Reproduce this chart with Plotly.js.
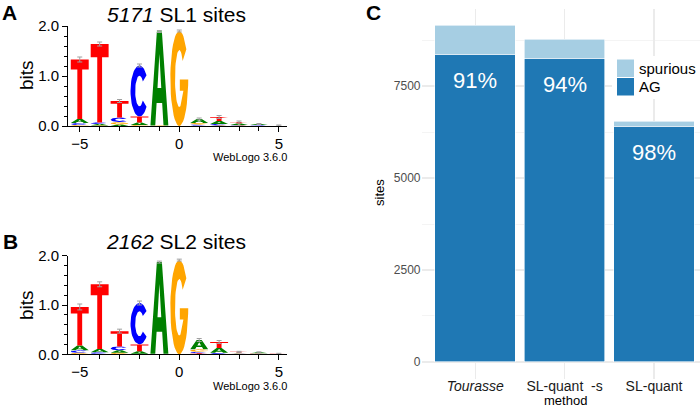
<!DOCTYPE html>
<html><head><meta charset="utf-8">
<script src="https://cdn.plot.ly/plotly-3.0.1.min.js"></script>
<style>html,body{margin:0;padding:0;background:#fff}#chart{width:700px;height:409px}</style>
</head><body><div id="chart"></div>
<script>
// ---------- Data ----------
const positions = [-5, -4, -3, -2, -1, 0, 1, 2, 3, 4, 5];
// Panel A: 5171 SL1 sites, letter heights (bits)
const sl1A = [0.08, 0.03, 0.03, 0.05, 1.88, 0.00, 0.08, 0.06, 0.03, 0.02, 0.00];
const sl1C = [0.04, 0.03, 0.09, 1.02, 0.00, 0.00, 0.02, 0.03, 0.01, 0.01, 0.00];
const sl1G = [0.02, 0.01, 0.05, 0.02, 0.01, 1.90, 0.03, 0.01, 0.01, 0.00, 0.00];
const sl1T = [1.19, 1.57, 0.33, 0.12, 0.00, 0.00, 0.01, 0.08, 0.03, 0.01, 0.01];
const sl1Err = [0.05, 0.04, 0.03, 0.03, 0.02, 0.02, 0.02, 0.03, 0.02, 0.01, 0.01];
// Panel B: 2162 SL2 sites
const sl2A = [0.10, 0.07, 0.05, 0.05, 1.86, 0.00, 0.19, 0.10, 0.01, 0.02, 0.00];
const sl2C = [0.05, 0.03, 0.08, 0.84, 0.00, 0.00, 0.03, 0.02, 0.01, 0.01, 0.00];
const sl2G = [0.03, 0.01, 0.03, 0.01, 0.01, 1.91, 0.05, 0.01, 0.01, 0.00, 0.00];
const sl2T = [0.78, 1.31, 0.31, 0.14, 0.00, 0.00, 0.02, 0.12, 0.02, 0.01, 0.01];
const sl2Err = [0.06, 0.05, 0.04, 0.04, 0.02, 0.02, 0.03, 0.03, 0.01, 0.01, 0.01];
// Panel C: sites per method
const methods = ['Tourasse', 'SL-quant  -s', 'SL-quant'];
const methodLabels = ['<i>Tourasse</i>', 'SL-quant\u00a0\u00a0-s', 'SL-quant'];
const agSites = [8370, 8253, 6402];
const spuriousSites = [788, 524, 138];

// ---------- Styles ----------
const FONT = 'Liberation Sans, Arial, Helvetica, sans-serif';
const letterColors = {A: '#008000', C: '#0000ff', G: '#ffa500', T: '#ff0000'};
const colAG = '#1f78b4', colSp = '#a6cee3';
const W = 700, H = 409;
const px = x => x / W, py = y => 1 - y / H;

// ---------- Glyph outlines (unit box) ----------
function arc(cx, cy, rx, ry, a0, a1, n) {
  const pts = [];
  for (let i = 0; i <= n; i++) {
    const a = (a0 + (a1 - a0) * i / n) * Math.PI / 180;
    pts.push([cx + rx * Math.cos(a), cy + ry * Math.sin(a)]);
  }
  return pts;
}
const glyphs = {
  T: [[[0,1],[1,1],[1,0.83],[0.635,0.83],[0.635,0],[0.365,0],[0.365,0.83],[0,0.83]]],
  A: [
    [[0,0],[0.27,0],[0.345,0.24],[0.655,0.24],[0.73,0],[1,0],[0.64,1],[0.36,1]],
    [[0.395,0.40],[0.5,0.76],[0.605,0.40]]
  ],
  C: [arc(0.5,0.5,0.5,0.5,38,322,40).concat(arc(0.5,0.5,0.24,0.30,322,38,40))],
  G: [arc(0.5,0.5,0.5,0.5,38,360,40)
       .concat([[1,0.49],[0.53,0.49],[0.53,0.37],[0.73,0.37]])
       .concat(arc(0.5,0.5,0.24,0.30,330,38,40))]
};

function logoTraces(hA, hC, hG, hT, err, xa, ya) {
  const byLetter = {A: {x: [], y: []}, C: {x: [], y: []}, G: {x: [], y: []}, T: {x: [], y: []}};
  const totals = [];
  positions.forEach((p, i) => {
    const stack = [['A', hA[i]], ['C', hC[i]], ['G', hG[i]], ['T', hT[i]]]
      .filter(s => s[1] > 0).sort((a, b) => a[1] - b[1]);
    let base = 0;
    stack.forEach(([L, h]) => {
      glyphs[L].forEach(ring => {
        ring.forEach(([u, v]) => {
          byLetter[L].x.push(p - 0.45 + 0.9 * u);
          byLetter[L].y.push(base + h * v);
        });
        byLetter[L].x.push(null); byLetter[L].y.push(null);
      });
      base += h;
    });
    totals.push(base);
  });
  const tr = Object.keys(byLetter).map(L => ({
    type: 'scatter', mode: 'lines', x: byLetter[L].x, y: byLetter[L].y,
    fill: 'toself', fillcolor: letterColors[L], line: {width: 0, color: letterColors[L]},
    xaxis: xa, yaxis: ya, showlegend: false, hoverinfo: 'skip', connectgaps: false
  }));
  tr.push({
    type: 'scatter', mode: 'markers', x: positions, y: totals,
    marker: {size: 1, opacity: 0},
    error_y: {type: 'data', array: err, color: '#a0a0a0', thickness: 1, width: 2.5},
    xaxis: xa, yaxis: ya, showlegend: false, hoverinfo: 'skip'
  });
  return tr;
}

const traces = [
  ...logoTraces(sl1A, sl1C, sl1G, sl1T, sl1Err, 'x', 'y'),
  ...logoTraces(sl2A, sl2C, sl2G, sl2T, sl2Err, 'x2', 'y2'),
  {type: 'bar', x: methods, y: agSites, name: 'AG', marker: {color: colAG, line: {color: '#ffffff', width: 0.6}},
   width: 0.9, xaxis: 'x3', yaxis: 'y3', showlegend: false, hoverinfo: 'skip'},
  {type: 'bar', x: methods, y: spuriousSites, name: 'spurious', marker: {color: colSp, line: {color: '#ffffff', width: 0.6}},
   width: 0.9, xaxis: 'x3', yaxis: 'y3', showlegend: false, hoverinfo: 'skip'}
];

const logoX = {
  range: [-5.59, 5.41], showline: true, linecolor: '#000', linewidth: 1,
  ticks: 'outside', ticklen: 5, tickcolor: '#000', tickwidth: 1, tick0: 0, dtick: 5,
  minor: {dtick: 1, ticks: 'outside', ticklen: 4, tickcolor: '#000'},
  showgrid: false, zeroline: false, tickfont: {size: 15, color: '#000'}, fixedrange: true,
  ticklabelstandoff: -1
};
const logoY = {
  range: [0, 2], showline: true, linecolor: '#000', linewidth: 1,
  ticks: 'outside', ticklen: 5, tickcolor: '#000', tickwidth: 1, tick0: 0, dtick: 1, tickformat: '.1f',
  minor: {dtick: 0.2, ticks: 'outside', ticklen: 3, tickcolor: '#000'},
  showgrid: false, zeroline: false, tickfont: {size: 15, color: '#000'}, fixedrange: true
};

const ann = [];
function txt(text, x, y, size, opts) {
  ann.push(Object.assign({text, x, y, xref: 'paper', yref: 'paper', showarrow: false,
    font: {size, color: '#000', family: FONT}, xanchor: 'center', yanchor: 'middle'}, opts || {}));
}
// Panel letters
txt('<b>A</b>', px(0.5), 1, 21, {xanchor: 'left', yanchor: 'top', borderpad: 0});
txt('<b>B</b>', px(0.5), py(242), 21, {xanchor: 'left'});
txt('<b>C</b>', px(365), 1, 21, {xanchor: 'left', yanchor: 'top', borderpad: 0});
// Logo titles
txt('<i>5171</i> SL1 sites', px(176), py(14.5), 21);
txt('<i>2162</i> SL2 sites', px(176), py(241.5), 21);
txt('bits', px(26), py(75), 19, {textangle: -90});
txt('bits', px(26), py(305), 19, {textangle: -90});
txt('WebLogo 3.6.0', px(288), py(156.5), 11, {xanchor: 'right', borderpad: 0});
txt('WebLogo 3.6.0', px(288), py(385.5), 11, {xanchor: 'right', borderpad: 0});
// Panel C titles
txt('sites', px(379), py(193), 13, {textangle: -90});
txt('method', px(565), 0, 13, {yanchor: 'bottom', borderpad: 0});
// Legend
txt('spurious', px(637), py(68), 15, {xanchor: 'left'});
txt('AG', px(637), py(86.5), 15, {xanchor: 'left'});
// Percent labels
methods.forEach((m, i) => {
  const pct = Math.round(100 * agSites[i] / (agSites[i] + spuriousSites[i]));
  ann.push({text: pct + '%', x: m, y: agSites[i], xref: 'x3', yref: 'y3', showarrow: false,
    yanchor: 'middle', yshift: -26, font: {size: 22, color: '#ffffff', family: FONT}});
});

const shapes = [
  {type: 'rect', xref: 'paper', yref: 'paper', x0: px(612), x1: 1, y0: py(99), y1: py(56),
   fillcolor: '#ffffff', line: {width: 0}, layer: 'above'},
  {type: 'rect', xref: 'paper', yref: 'paper', x0: px(617), x1: px(634), y0: py(77), y1: py(59.5),
   fillcolor: colSp, line: {width: 0}, layer: 'above'},
  {type: 'rect', xref: 'paper', yref: 'paper', x0: px(617), x1: px(634), y0: py(95.5), y1: py(78),
   fillcolor: colAG, line: {width: 0}, layer: 'above'}
];

const layout = {
  width: W, height: H, margin: {l: 0, r: 0, t: 0, b: 0},
  paper_bgcolor: '#ffffff', plot_bgcolor: 'rgba(0,0,0,0)',
  font: {family: FONT, color: '#000'},
  showlegend: false, barmode: 'stack', bargap: 0.1,
  xaxis: Object.assign({}, logoX, {domain: [px(68), px(287)], anchor: 'y'}),
  yaxis: Object.assign({}, logoY, {domain: [py(126), py(26)], anchor: 'x'}),
  xaxis2: Object.assign({}, logoX, {domain: [px(68), px(287)], anchor: 'y2'}),
  yaxis2: Object.assign({}, logoY, {domain: [py(354.3), py(255.7)], anchor: 'x2'}),
  xaxis3: {domain: [px(421.5), 1], anchor: 'y3', type: 'category', range: [-0.6, 2.514],
    tickvals: methods, ticktext: methodLabels, ticks: '', showline: false, zeroline: false,
    showgrid: true, gridcolor: '#ebebeb', gridwidth: 1.1, ticklabelstandoff: -3,
    tickfont: {size: 14, color: '#1a1a1a'}, fixedrange: true},
  yaxis3: {domain: [py(378.8), py(8.5)], anchor: 'x3', range: [-457, 9607],
    tickvals: [0, 2500, 5000, 7500], ticks: '', showline: false, zeroline: false,
    showgrid: true, gridcolor: '#ebebeb', gridwidth: 1.1,
    minor: {tickvals: [1250, 3750, 6250, 8750], showgrid: true, gridcolor: '#ebebeb', gridwidth: 0.55},
    tickfont: {size: 12, color: '#4d4d4d'}, fixedrange: true},
  annotations: ann,
  shapes: shapes
};

Plotly.newPlot('chart', traces, layout, {staticPlot: true, displayModeBar: false});
</script>
</body></html>
